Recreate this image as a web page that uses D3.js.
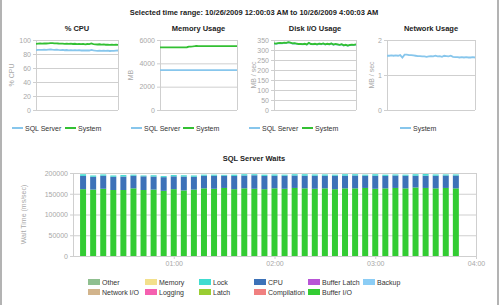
<!DOCTYPE html>
<html>
<head>
<meta charset="utf-8">
<script src="https://cdn.jsdelivr.net/npm/d3@7"></script>
<style>
  body { margin: 0; background: #fff; }
  text { font-family: "Liberation Sans", Arial, sans-serif; }
</style>
</head>
<body>
<div id="chart"></div>
<script>
// ---- data ----
var rangeTitle = "Selected time range: 10/26/2009 12:00:03 AM to 10/26/2009 4:00:03 AM";

// line charts: one sample every 6 minutes, 00:00 -> 04:00
var lineMinutes = d3.range(0, 241, 6);

var cpuSql = [85.6,85.8,86,85.8,86.2,86,86.3,86.5,86.2,86,86.1,85.8,85.6,85.8,85.4,85.7,85.3,85.6,85.2,85.5,85.1,85.4,85,85.3,85,85.2,85,85.9,85.2,84.8,84.6,84.9,84.5,84.8,84.4,84.7,84.3,84.6,84.5,84.8,85];
var cpuSystem = [94.6,94.8,95,94.7,95.2,95,95.3,95.6,95.4,95.1,95.3,95,94.8,94.9,94.6,94.9,94.5,94.7,94.3,94.6,94.2,94.4,94.1,94.5,93.9,94.3,94,95,94.2,93.8,93.6,93.9,93.4,93.7,93.2,93.5,93.1,93.3,93,93.2,93.1];

var memSql = [3410,3410,3410,3410,3410,3410,3410,3410,3410,3410,3410,3410,3410,3410,3410,3410,3410,3410,3410,3410,3410,3410,3410,3410,3410,3410,3410,3410,3410,3410,3410,3410,3410,3410,3410,3410,3410,3410,3410,3410,3410];
var memSystem = [5360,5360,5360,5360,5365,5365,5365,5370,5370,5370,5370,5370,5375,5375,5380,5430,5440,5450,5470,5500,5480,5470,5470,5470,5475,5475,5475,5475,5480,5480,5480,5480,5480,5480,5480,5480,5480,5480,5480,5480,5480];

var diskSql = [332,331,333,334,333,336,335,338,336,332,333,331,329,330,328,330,327,335,329,328,330,327,331,329,332,327,330,328,332,326,329,327,325,328,322,325,321,324,326,325,327];
var diskSystem = [333,332,334,335,334,337,336,339,337,333,334,332,330,331,329,331,328,336,330,329,331,328,332,330,333,328,331,329,333,327,330,328,326,329,323,326,322,325,327,326,328];

var netSystem = [1.55,1.55,1.56,1.55,1.56,1.55,1.57,1.5,1.58,1.58,1.57,1.57,1.56,1.55,1.54,1.54,1.53,1.53,1.52,1.53,1.54,1.53,1.55,1.53,1.54,1.52,1.55,1.54,1.53,1.55,1.52,1.51,1.51,1.5,1.51,1.5,1.51,1.5,1.5,1.51,1.5];

// SQL Server Waits: one bar every 6 minutes
var waitMinutes = d3.range(6, 229, 6);
var waitBufferIO = [161000,160000,162000,159000,159000,163000,159000,160000,157000,161000,158000,160000,163000,162000,164000,161000,163000,162000,161000,163000,162000,164000,163000,162000,163000,161000,163000,163000,164000,162000,163000,164000,163000,165000,164000,163000,164000,163000];
var waitCPU = [32000,31000,31500,32000,32500,30500,33000,31500,33000,31000,33500,31000,30500,31500,29500,32000,31000,32500,32000,30500,31500,30000,30500,31500,30500,32500,30500,31000,29500,31500,30000,30000,30500,28500,29500,30500,30000,31000];
var waitLock = [4000,3000,3000,3000,3500,2500,2000,3000,2500,3000,3000,3000,2500,2500,2000,3000,3000,2500,3000,3000,2500,3000,3500,3000,3000,2500,3500,3000,2500,3500,3000,2500,2500,3500,4000,3000,2500,2500];

var waitCategories = ["Other","Memory","Lock","CPU","Buffer Latch","Backup","Network I/O","Logging","Latch","Compilation","Buffer I/O"];
var waitColors = ["#8fbf8f","#f3e08c","#40dcd0","#3d72b8","#b855d6","#8ccdf5","#d2b48c","#f560b0","#9acd32","#f08080","#33cc33"];

var xTickLabels = ["01:00","02:00","03:00","04:00"];

// ---- drawing ----
var sqlColor = "#87c6ec", sysColor = "#33c033";
var tickGray = "#a8a8a8", gridGray = "#cfcfcf";

var svg = d3.select("#chart").append("svg")
  .attr("width", 501)
  .attr("height", 305);

svg.append("rect").attr("width", 501).attr("height", 305).attr("fill", "#fff");
svg.append("line").attr("x1", 1).attr("x2", 1).attr("y1", 0).attr("y2", 305)
  .attr("stroke", "#9a9a9a").attr("stroke-width", 1.5);
svg.append("line").attr("x1", 498).attr("x2", 498).attr("y1", 0).attr("y2", 305)
  .attr("stroke", "#9a9a9a").attr("stroke-width", 1.5);

svg.append("text")
  .attr("x", 254).attr("y", 15)
  .attr("text-anchor", "middle")
  .attr("font-size", 7.5).attr("font-weight", "bold").attr("fill", "#222")
  .text(rangeTitle);

var smallCharts = [
  { title: "% CPU", left: 36, right: 118, max: 100, ticks: [0,20,40,60,80,100], label: "% CPU", labelX: 12,
    series: [{ name: "SQL Server", values: cpuSql, color: sqlColor }, { name: "System", values: cpuSystem, color: sysColor }],
    legend: [{ name: "SQL Server", color: sqlColor, x: 12 }, { name: "System", color: sysColor, x: 65 }] },
  { title: "Memory Usage", left: 160, right: 237, max: 6000, ticks: [0,2000,4000,6000], label: "MB", labelX: 131,
    series: [{ name: "SQL Server", values: memSql, color: sqlColor }, { name: "System", values: memSystem, color: sysColor }],
    legend: [{ name: "SQL Server", color: sqlColor, x: 131 }, { name: "System", color: sysColor, x: 183 }] },
  { title: "Disk I/O Usage", left: 274, right: 356, max: 350, ticks: [0,50,100,150,200,250,300,350], label: "MB / sec", labelX: 254,
    series: [{ name: "SQL Server", values: diskSql, color: sqlColor }, { name: "System", values: diskSystem, color: sysColor }],
    legend: [{ name: "SQL Server", color: sqlColor, x: 249 }, { name: "System", color: sysColor, x: 302 }] },
  { title: "Network Usage", left: 387, right: 475, max: 2, ticks: [0,1,2], label: "MB / sec", labelX: 372,
    series: [{ name: "System", values: netSystem, color: sqlColor }],
    legend: [{ name: "System", color: sqlColor, x: 400 }] }
];

var plotTop = 40, plotBottom = 110;

smallCharts.forEach(function(c) {
  var g = svg.append("g");
  var x = d3.scaleLinear().domain([0, 240]).range([c.left, c.right]);
  var y = d3.scaleLinear().domain([0, c.max]).range([plotBottom, plotTop]);

  g.append("text")
    .attr("x", (c.left + c.right) / 2).attr("y", 31)
    .attr("text-anchor", "middle")
    .attr("font-size", 7.5).attr("font-weight", "bold").attr("fill", "#222")
    .text(c.title);

  // grid
  g.selectAll(".grid").data(c.ticks).enter().append("line")
    .attr("x1", c.left).attr("x2", c.right)
    .attr("y1", d => y(d) + 0.5).attr("y2", d => y(d) + 0.5)
    .attr("stroke", gridGray);
  g.append("line").attr("x1", c.left + 0.5).attr("x2", c.left + 0.5)
    .attr("y1", plotTop).attr("y2", plotBottom).attr("stroke", gridGray);
  g.append("line").attr("x1", c.right + 0.5).attr("x2", c.right + 0.5)
    .attr("y1", plotTop).attr("y2", plotBottom).attr("stroke", gridGray);

  var yAxis = d3.axisLeft(y).tickValues(c.ticks).tickSize(3).tickPadding(2).tickFormat(d3.format("d"));
  var ag = g.append("g").attr("transform", `translate(${c.left},0)`).call(yAxis);
  ag.select(".domain").remove();
  ag.selectAll("line").attr("stroke", gridGray);
  ag.selectAll("text").attr("fill", tickGray).attr("font-size", 7)
    .attr("font-family", "Liberation Sans, Arial, sans-serif");

  g.append("text")
    .attr("transform", `translate(${c.labelX},${(plotTop + plotBottom) / 2}) rotate(-90)`)
    .attr("text-anchor", "middle").attr("dy", "0.35em")
    .attr("font-size", 7).attr("fill", tickGray)
    .text(c.label);

  var line = d3.line()
    .x((d, i) => x(lineMinutes[i]))
    .y(d => y(d));
  c.series.forEach(function(s) {
    g.append("path").datum(s.values)
      .attr("d", line)
      .attr("fill", "none")
      .attr("stroke", s.color)
      .attr("stroke-width", 1.8);
  });

  c.legend.forEach(function(l) {
    g.append("line").attr("x1", l.x).attr("x2", l.x + 11)
      .attr("y1", 128).attr("y2", 128)
      .attr("stroke", l.color).attr("stroke-width", 2);
    g.append("text").attr("x", l.x + 13).attr("y", 130.5)
      .attr("font-size", 7).attr("fill", "#333")
      .text(l.name);
  });
});

// ---- SQL Server Waits ----
var bLeft = 73, bRight = 476, bTop = 173, bBottom = 256;

svg.append("text")
  .attr("x", 254).attr("y", 161)
  .attr("text-anchor", "middle")
  .attr("font-size", 7.5).attr("font-weight", "bold").attr("fill", "#222")
  .text("SQL Server Waits");

var xw = d3.scaleLinear().domain([0, 240]).range([bLeft, bRight]);
var yw = d3.scaleLinear().domain([0, 200000]).range([bBottom, bTop]);

var wg = svg.append("g");
var wTicks = [0, 50000, 100000, 150000, 200000];
wg.selectAll(".grid").data(wTicks).enter().append("line")
  .attr("x1", bLeft).attr("x2", bRight)
  .attr("y1", d => yw(d) + 0.5).attr("y2", d => yw(d) + 0.5)
  .attr("stroke", gridGray);
wg.append("line").attr("x1", bLeft + 0.5).attr("x2", bLeft + 0.5)
  .attr("y1", bTop).attr("y2", bBottom).attr("stroke", gridGray);
wg.append("line").attr("x1", bRight + 0.5).attr("x2", bRight + 0.5)
  .attr("y1", bTop).attr("y2", bBottom).attr("stroke", gridGray);

var wyAxis = d3.axisLeft(yw).tickValues(wTicks).tickSize(3).tickPadding(2).tickFormat(d3.format("d"));
var wya = wg.append("g").attr("transform", `translate(${bLeft},0)`).call(wyAxis);
wya.select(".domain").remove();
wya.selectAll("line").attr("stroke", gridGray);
wya.selectAll("text").attr("fill", tickGray).attr("font-size", 7)
  .attr("font-family", "Liberation Sans, Arial, sans-serif");

var wxAxis = d3.axisBottom(xw).tickValues([60, 120, 180, 240]).tickSize(3).tickPadding(2)
  .tickFormat((d, i) => xTickLabels[i]);
var wxa = wg.append("g").attr("transform", `translate(0,${bBottom})`).call(wxAxis);
wxa.select(".domain").remove();
wxa.selectAll("line").attr("stroke", gridGray);
wxa.selectAll("text").attr("fill", tickGray).attr("font-size", 7)
  .attr("font-family", "Liberation Sans, Arial, sans-serif");

wg.append("text")
  .attr("transform", `translate(24,${(bTop + bBottom) / 2}) rotate(-90)`)
  .attr("text-anchor", "middle").attr("dy", "0.35em")
  .attr("font-size", 7).attr("fill", tickGray)
  .text("Wait Time (ms/sec)");

var waitRows = waitMinutes.map(function(m, i) {
  return { minute: m, "Buffer I/O": waitBufferIO[i], "CPU": waitCPU[i], "Lock": waitLock[i] };
});
var stackKeys = ["Buffer I/O", "CPU", "Lock"];
var color = d3.scaleOrdinal().domain(waitCategories).range(waitColors);
var stacked = d3.stack().keys(stackKeys)(waitRows);
var barW = 6;

wg.selectAll(".layer").data(stacked).enter().append("g")
  .attr("fill", d => color(d.key))
  .selectAll("rect").data(d => d).enter().append("rect")
  .attr("x", d => xw(d.data.minute) - barW / 2)
  .attr("y", d => yw(d[1]))
  .attr("width", barW)
  .attr("height", d => yw(d[0]) - yw(d[1]));

// legend: 6 columns x 2 rows
var legendCols = [88, 145, 199, 254, 308, 363];
var legendRows = [282, 292];
var lg = svg.append("g");
waitCategories.forEach(function(name, i) {
  var col = i < 6 ? i : i - 6;
  var row = i < 6 ? 0 : 1;
  lg.append("rect")
    .attr("x", legendCols[col]).attr("y", legendRows[row] - 3)
    .attr("width", 12).attr("height", 6)
    .attr("fill", color(name));
  lg.append("text")
    .attr("x", legendCols[col] + 14).attr("y", legendRows[row] + 2.5)
    .attr("font-size", 7).attr("fill", "#333")
    .text(name);
});
</script>
</body>
</html>
